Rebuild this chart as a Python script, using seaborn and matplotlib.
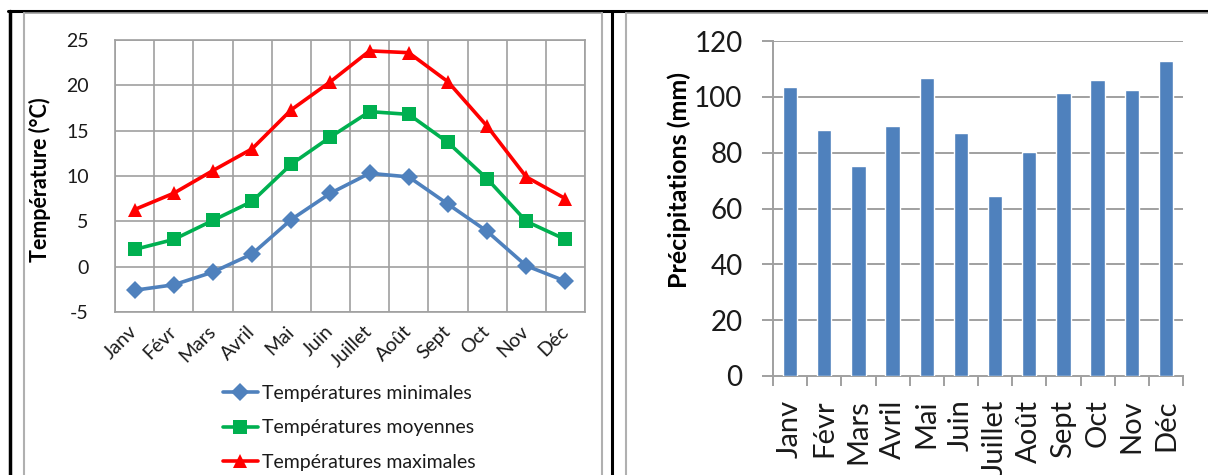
"""Climate chart: monthly temperatures (lines) and precipitation (bars)."""

import matplotlib
matplotlib.use("Agg")
import matplotlib.pyplot as plt
from matplotlib.lines import Line2D
import pandas as pd
import seaborn as sns

# --- Data ---------------------------------------------------------------
months = ["Janv", "Févr", "Mars", "Avril", "Mai", "Juin",
          "Juillet", "Août", "Sept", "Oct", "Nov", "Déc"]
t_min = [-2.6, -2.0, -0.6, 1.4, 5.2, 8.1, 10.3, 9.9, 6.9, 3.9, 0.1, -1.6]
t_moy = [1.9, 3.0, 5.1, 7.2, 11.3, 14.3, 17.1, 16.8, 13.7, 9.7, 5.0, 3.0]
t_max = [6.3, 8.1, 10.6, 13.0, 17.3, 20.4, 23.8, 23.6, 20.4, 15.5, 9.9, 7.5]
precip = [103.5, 88.2, 75.3, 89.5, 106.6, 87.0, 64.6, 80.3, 101.2, 105.9, 102.5, 112.7]

series_names = ["Températures minimales", "Températures moyennes", "Températures maximales"]
series_colors = ["#4F81BD", "#00B050", "#FF0000"]
series_markers = ["D", "s", "^"]

W, H = 1208, 475
GRID = "#A0A0A0"
TEXT = "#1A1A1A"


def fx(px):
    return px / W


def fy(py):
    return 1 - py / H


sns.set_theme(style="white")
plt.rcParams["font.family"] = ["Lato", "DejaVu Sans"]
plt.rcParams["axes.unicode_minus"] = False

fig = plt.figure(figsize=(W / 100, H / 100), dpi=100)

# --- Frame (table borders) ---------------------------------------------
frame = [
    ((8, W), (11, 11), "black", 2.2),
    ((9.5, 9.5), (11, H), "black", 2.5),
    ((611.5, 611.5), (11, H), "black", 2.2),
    ((24, 602), (12.5, 12.5), GRID, 1.2),
    ((24, 24), (12.5, H), "#B0B0B0", 1.5),
    ((602, 602), (12.5, H), "#B0B0B0", 1.5),
    ((626, W), (12.5, 12.5), GRID, 1.2),
    ((626, 626), (12.5, H), "#B0B0B0", 1.5),
]
for xs, ys, c, lw in frame:
    fig.add_artist(Line2D([fx(x) for x in xs], [fy(y) for y in ys],
                          color=c, lw=lw, transform=fig.transFigure))

# --- Left: temperatures -------------------------------------------------
ax1 = fig.add_axes([fx(115), fy(312), fx(585 - 115), (312 - 40) / H])
temps = pd.DataFrame({
    "Mois": months * 3,
    "Température": t_min + t_moy + t_max,
    "Série": [n for n in series_names for _ in months],
})
sns.lineplot(data=temps, x="Mois", y="Température", hue="Série", style="Série",
             palette=dict(zip(series_names, series_colors)),
             markers=dict(zip(series_names, series_markers)),
             dashes=False, sort=False, lw=2.6, markersize=9.5,
             markeredgewidth=0, legend=False, ax=ax1)
ax1.set_xlim(-0.5, len(months) - 0.5)
ax1.set_ylim(-5, 25)
ax1.set_yticks(range(-5, 30, 5))
ax1.set_xticks(range(len(months)))
ax1.set_xticklabels(months, rotation=45, ha="right", va="center",
                    rotation_mode="anchor", fontsize=14, color=TEXT)
ax1.tick_params(axis="y", labelsize=14, labelcolor=TEXT, length=0, pad=19)
ax1.tick_params(axis="x", length=0, pad=12)
for x in range(len(months) + 1):
    ax1.axvline(x - 0.5, color=GRID, lw=1.2, zorder=0)
for y in range(-5, 30, 5):
    ax1.axhline(y, color=GRID, lw=1.2, zorder=0)
for s in ax1.spines.values():
    s.set_color(GRID)
    s.set_linewidth(1.2)
ax1.set_xlabel("")
ax1.set_ylabel("Température (°C)", fontsize=15.5, fontweight="bold", color="black")
ax1.yaxis.set_label_coords(-0.136, 0.485)

handles = [Line2D([], [], color=c, marker=m, lw=2.6, markersize=9.5,
                  markeredgewidth=0)
           for c, m in zip(series_colors, series_markers)]
fig.legend(handles, series_names, loc="upper left",
           bbox_to_anchor=(fx(205), fy(367)), frameon=False, fontsize=14,
           handlelength=1.85, handletextpad=0.2, labelspacing=0.92,
           labelcolor=TEXT)

# --- Right: precipitation ----------------------------------------------
ax2 = fig.add_axes([fx(773), fy(376), fx(1183 - 773), (376 - 41) / H])
rain = pd.DataFrame({"Mois": months, "Précipitations": precip})
sns.barplot(data=rain, x="Mois", y="Précipitations", color="#4F81BD",
            saturation=1, width=0.42, ax=ax2, zorder=3)
ax2.set_xlim(-0.5, len(months) - 0.5)
ax2.set_ylim(0, 120)
ax2.set_yticks(range(0, 140, 20))
for y in range(20, 140, 20):
    ax2.axhline(y, color=GRID, lw=1.4, zorder=0)
ax2.set_xticks([i - 0.5 for i in range(len(months) + 1)], minor=True)
ax2.set_xticks(range(len(months)))
ax2.set_xticklabels(months, rotation=90, fontsize=21, color=TEXT)
ax2.tick_params(axis="x", which="major", length=0, pad=17)
ax2.tick_params(axis="x", which="minor", length=7, width=1.4, color=GRID,
                direction="out", bottom=True)
ax2.tick_params(axis="y", labelsize=20, labelcolor=TEXT, length=8, width=1.4,
                color=GRID, direction="out", left=True, pad=14)
ax2.spines["top"].set_visible(False)
ax2.spines["right"].set_visible(False)
for s in ("left", "bottom"):
    ax2.spines[s].set_color(GRID)
    ax2.spines[s].set_linewidth(1.4)
ax2.set_xlabel("")
ax2.set_ylabel("Précipitations (mm)", fontsize=18, fontweight="bold",
               color="black")
ax2.yaxis.set_label_coords(-0.2, 0.585)

fig.savefig("out.png", dpi=100)
